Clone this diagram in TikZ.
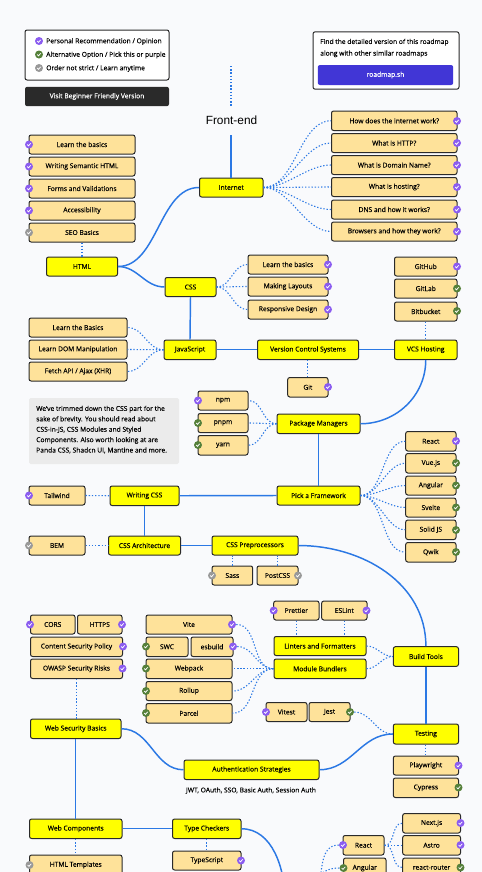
\documentclass[tikz,border=0pt]{standalone}
\usepackage{fontspec}
\setmainfont[FakeBold=0.25]{Open Sans}
\newfontfamily\titlefont{Liberation Sans}
\newfontfamily\heavyfont[FakeBold=0.5]{Open Sans}
\definecolor{bgc}{HTML}{F9FAFC}
\definecolor{peach}{HTML}{FEE29A}
\definecolor{yel}{HTML}{FFFF00}
\definecolor{edge}{HTML}{2B78E4}
\definecolor{pur}{HTML}{8B5CF0}
\definecolor{grn}{HTML}{55803A}
\definecolor{gry}{HTML}{999999}
\definecolor{ink}{HTML}{2A2A2A}
\definecolor{indigo}{HTML}{4136D6}
\tikzset{
  tinytext/.style={font=\fontsize{5.02}{6.5}\selectfont,text=black},
  basebox/.style={draw=ink,line width=0.75pt,rounded corners=1.6pt,inner sep=0pt,tinytext},
  leaf/.style={basebox,fill=peach},
  topic/.style={basebox,fill=yel},
  solidline/.style={edge,line width=1.1pt},
  dotline/.style={edge,line width=0.8pt,dash pattern=on 1pt off 1.4pt},
  chkdot/.style={circle,inner sep=0pt,minimum size=6pt,draw=none},
  chkmark/.style={white,line width=0.55pt}
}
\newcommand\bx[7]{\node[#1,minimum width={(#5-#3)*0.75pt},minimum height={(#6-#4)*0.75pt}] (#2) at ({(#3+#5)/2},{(#4+#6)/2}) {#7};}
\newcommand\chk[4]{\node[chkdot,fill=#4] (#1) at (#2,#3) {};\draw[chkmark,shift={(#2,#3)}] (-1.8,0) -- (-0.5,1.3) -- (1.8,-1.2);}
\begin{document}
\begin{tikzpicture}[x=0.75pt,y=-0.75pt]
\useasboundingbox (0,0) rectangle (482,872);
\clip (0,0) rectangle (482,872);
\fill[bgc] (0,0) rectangle (482,872);
% legend
\node[basebox,fill=white,minimum width=108pt,minimum height=37.5pt] (legend) at (97,55) {};
\chk{la}{39}{41}{pur}\chk{lb}{39}{54.5}{grn}\chk{lc}{39}{68}{gry}
\node[tinytext,anchor=west,inner sep=0pt] (lta) at (46,41.5) {Personal Recommendation / Opinion};
\node[tinytext,anchor=west,inner sep=0pt] (ltb) at (46,55) {Alternative Option / Pick this or purple};
\node[tinytext,anchor=west,inner sep=0pt] (ltc) at (46,68.5) {Order not strict / Learn anytime};
\node[fill=ink,rounded corners=1.6pt,text=white,inner sep=0pt,minimum width=108pt,minimum height=14.5pt,font=\heavyfont\fontsize{5.02}{6.5}\selectfont] (begin) at (97,96.5) {Visit Beginner Friendly Version};
% find box
\node[basebox,fill=white,minimum width=109.5pt,minimum height=43pt] (find) at (386,60.5) {};
\node[tinytext,anchor=west,inner sep=0pt,align=left] (findt) at (320,48) {Find the detailed version of this roadmap\\[2.2pt]along with other similar roadmaps};
\node[fill=indigo,rounded corners=1.6pt,text=white,inner sep=0pt,minimum width=101.5pt,minimum height=15pt,font=\heavyfont\fontsize{5.02}{6.5}\selectfont] (rm) at (385.5,75) {roadmap.sh};
% title
\node[font=\titlefont\fontsize{8.9}{11}\selectfont,inner sep=0pt] (title) at (231.5,120.5) {Front-end};
\coordinate (titletop) at (231,66);
\coordinate (titleb) at (231,107);
\coordinate (titlec) at (231,135);
% boxes
\bx{topic}{internet}{199.5}{178}{263}{197}{Internet}
\bx{leaf}{r1}{331.5}{111}{457}{130.5}{How does the internet work?}
\bx{leaf}{r2}{331.5}{133.5}{457}{152.5}{What is HTTP?}
\bx{leaf}{r3}{331.5}{155.5}{457}{174.5}{What is Domain Name?}
\bx{leaf}{r4}{331.5}{177.5}{457}{196.5}{What is hosting?}
\bx{leaf}{r5}{331.5}{200}{457}{219}{DNS and how it works?}
\bx{leaf}{r6}{331.5}{222}{457}{241}{Browsers and how they work?}
\bx{leaf}{h1}{29}{135}{135}{154}{Learn the basics}
\bx{leaf}{h2}{29}{157}{135}{176}{Writing Semantic HTML}
\bx{leaf}{h3}{29}{179}{135}{198}{Forms and Validations}
\bx{leaf}{h4}{29}{201}{135}{220}{Accessibility}
\bx{leaf}{h5}{29}{223}{135}{242}{SEO Basics}
\bx{topic}{html}{46.5}{257}{117.5}{276}{HTML}
\bx{topic}{css}{165}{277.5}{216}{296.5}{CSS}
\bx{leaf}{c1}{248}{255}{328}{274}{Learn the basics}
\bx{leaf}{c2}{248}{277}{328}{296}{Making Layouts}
\bx{leaf}{c3}{248}{300}{328}{319}{Responsive Design}
\bx{leaf}{g1}{394.5}{257}{457}{276}{GitHub}
\bx{leaf}{g2}{394.5}{279}{457}{298}{GitLab}
\bx{leaf}{g3}{394.5}{302}{457}{321}{Bitbucket}
\bx{topic}{vcsh}{394.5}{340}{457}{359.5}{VCS Hosting}
\bx{topic}{vcs}{257.5}{340}{358.5}{359.5}{Version Control Systems}
\bx{topic}{js}{164}{340}{216}{359.5}{JavaScript}
\bx{leaf}{j1}{29}{318}{127}{337}{Learn the Basics}
\bx{leaf}{j2}{29}{340}{127}{359}{Learn DOM Manipulation}
\bx{leaf}{j3}{29}{362}{127}{381}{Fetch API / Ajax (XHR)}
\bx{leaf}{git}{287.7}{377.5}{328}{397}{Git}
\bx{topic}{pm}{277}{414}{360}{433.5}{Package Managers}
\bx{leaf}{npm}{198}{391}{248}{410}{npm}
\bx{leaf}{pnpm}{198}{413.5}{248}{432.5}{pnpm}
\bx{leaf}{yarn}{198}{435.5}{248}{455}{yarn}
\node[fill=black!8,rounded corners=1.2pt,minimum width=112.5pt,minimum height=49.5pt] (note) at (104,431) {};
\node[tinytext,anchor=north west,inner sep=0pt,align=left] (notet) at (36,405.5) {We've trimmed down the CSS part for the\\[1.3pt]sake of brevity. You should read about\\[1.3pt]CSS-in-JS, CSS Modules and Styled\\[1.3pt]Components. Also worth looking at are\\[1.3pt]Panda CSS, Shadcn UI, Mantine and more.};
\bx{leaf}{f1}{405.7}{431.5}{456}{451}{React}
\bx{leaf}{f2}{405.7}{453.5}{456}{473}{Vue.js}
\bx{leaf}{f3}{405.7}{476}{456}{495}{Angular}
\bx{leaf}{f4}{405.7}{498}{456}{517}{Svelte}
\bx{leaf}{f5}{405.7}{520}{456}{539.5}{Solid JS}
\bx{leaf}{f6}{405.7}{542.5}{456}{562}{Qwik}
\bx{topic}{pick}{277}{486}{360}{505}{Pick a Framework}
\bx{topic}{wcss}{110}{486}{179}{505.5}{Writing CSS}
\bx{leaf}{tail}{29}{486}{85}{505}{Tailwind}
\bx{topic}{arch}{108.5}{536}{180.5}{555}{CSS Architecture}
\bx{leaf}{bem}{29}{536}{85}{555}{BEM}
\bx{topic}{prep}{212}{536}{298}{555}{CSS Preprocessors}
\bx{leaf}{sass}{212}{566}{252.7}{585}{Sass}
\bx{leaf}{post}{257}{566}{298}{585}{PostCSS}
\bx{topic}{build}{393.3}{646.7}{458.5}{666.3}{Build Tools}
\bx{topic}{test}{393.3}{724}{458.5}{744}{Testing}
\bx{leaf}{play}{393.3}{756}{458.5}{775}{Playwright}
\bx{leaf}{cyp}{393.3}{778}{458.5}{797.5}{Cypress}
\bx{leaf}{pret}{273.7}{601}{319}{620}{Prettier}
\bx{leaf}{esl}{321.7}{601}{367}{620}{ESLint}
\bx{topic}{lint}{274}{636.5}{366}{655.5}{Linters and Formatters}
\bx{topic}{mod}{274}{659}{366}{678.5}{Module Bundlers}
\bx{leaf}{vitest}{266}{702.5}{307}{721.5}{Vitest}
\bx{leaf}{jest}{309}{702.5}{350}{721.5}{Jest}
\bx{topic}{auth}{184}{760}{319}{779.5}{Authentication Strategies}
\node[tinytext,inner sep=0pt] (autht) at (251,790.5) {JWT, OAuth, SSO, Basic Auth, Session Auth};
\bx{leaf}{next}{402.7}{813.5}{460.5}{833}{Next.js}
\bx{leaf}{astro}{402.7}{835.5}{460.5}{855}{Astro}
\bx{leaf}{rr}{402.7}{858}{460.5}{877}{react-router}
\bx{leaf}{react}{343}{835.5}{384}{855}{React}
\bx{leaf}{ang}{343.5}{858}{386}{878}{Angular}
\bx{leaf}{cors}{30.5}{615}{75}{634}{CORS}
\bx{leaf}{https}{77.5}{615}{122}{634}{HTTPS}
\bx{leaf}{csp}{30.5}{637}{122.5}{656.5}{Content Security Policy}
\bx{leaf}{owasp}{30.5}{659}{122.5}{678.5}{OWASP Security Risks}
\bx{topic}{wsb}{30.5}{719}{121}{738.5}{Web Security Basics}
\bx{topic}{wc}{29.5}{819}{122}{838.5}{Web Components}
\bx{topic}{tc}{172.5}{819}{241}{838.5}{Type Checkers}
\bx{leaf}{ts}{172.5}{851}{241}{870}{TypeScript}
\bx{leaf}{tmpl}{29.5}{855}{122}{875}{HTML Templates}
\bx{leaf}{vite}{146}{615}{232}{634}{Vite}
\bx{leaf}{swc}{146}{637}{188}{656.5}{SWC}
\bx{leaf}{esb}{191}{637}{233}{656.5}{esbuild}
\bx{leaf}{wp}{146}{659}{232}{678.5}{Webpack}
\bx{leaf}{roll}{146}{681.5}{232}{700.5}{Rollup}
\bx{leaf}{parc}{146}{703.5}{232}{723}{Parcel}
% free ends
\coordinate (tcend) at (285,900);
\coordinate (reactend) at (318,890);
\coordinate (angend) at (316,882);
% solid connectors
\draw[dotline] (titletop) -- (titleb);
\draw[solidline] (titlec) -- (titlec |- internet.north);
\draw[solidline] (html.east) to[out=0,in=180,looseness=0.9] (internet.west);
\draw[solidline] (html.east) to[out=0,in=180] (css.west);
\draw[solidline] (css.south) -- (js.north);
\draw[solidline] (js.east) -- (vcs.west);
\draw[solidline] (vcs.east) -- (vcsh.west);
\draw[solidline] (vcsh.south) to[out=270,in=0,looseness=1] (pm.east);
\draw[solidline] (pm.south) -- (pick.north);
\draw[solidline] (pick.west) -- (wcss.east);
\draw[solidline] (wcss.south) -- (wcss.south |- arch.north);
\draw[solidline] (arch.east) -- (prep.west);
\draw[solidline] (prep.east) to[out=0,in=90,looseness=1] (build.north);
\draw[solidline] (build.south) -- (test.north);
\draw[solidline] (test.west) to[out=180,in=0] (auth.east);
\draw[solidline] (auth.west) to[out=180,in=0] (wsb.east);
\draw[solidline] (wsb.south) -- (wsb.south |- wc.north);
\draw[solidline] (wc.east) -- (tc.west);
\draw[solidline] (tc.east) to[out=0,in=90,looseness=0.95] (tcend);
% dotted connectors
\foreach \t in {r1,r2,r3,r4,r5,r6}{\draw[dotline] (internet.east) to[out=0,in=180,looseness=0.85] (\t.west);}
\foreach \t in {c1,c2,c3}{\draw[dotline] (css.east) to[out=0,in=180] (\t.west);}
\draw[dotline] (h5.south -| html.north) -- (html.north);
\draw[dotline] (g3.south) -- (vcsh.north);
\draw[dotline] (vcs.south -| git.north) -- (git.north);
\foreach \t in {j1,j2,j3}{\draw[dotline] (js.west) to[out=180,in=0] (\t.east);}
\foreach \t in {npm,pnpm,yarn}{\draw[dotline] (pm.west) to[out=180,in=0] (\t.east);}
\foreach \t in {f1,f2,f3,f4,f5,f6}{\draw[dotline] (pick.east) to[out=0,in=180,looseness=0.85] (\t.west);}
\draw[dotline] (tail.east) -- (wcss.west);
\draw[dotline] (bem.east) -- (arch.west);
\draw[dotline] (sass.north) -- (sass.north |- prep.south);
\draw[dotline] (post.north) -- (post.north |- prep.south);
\draw[dotline] (pret.south) -- (pret.south |- lint.north);
\draw[dotline] (esl.south) -- (esl.south |- lint.north);
\draw[dotline] (lint.east) to[out=0,in=180] (build.west);
\draw[dotline] (mod.east) to[out=0,in=180] (build.west);
\draw[dotline] (test.south) -- (play.north);
\draw[dotline] (owasp.south) -- (owasp.south |- wsb.north);
\draw[dotline] (wc.south) -- (tmpl.north);
\draw[dotline] (tc.south) -- (ts.north);
\foreach \t in {wp,roll,parc}{\draw[dotline] (mod.west) to[out=180,in=0] (\t.east);}
% checks
\foreach \n/\x/\y in {r1/457/121,r2/457/143,r3/457/165,r4/457/187,r5/457/209.5,r6/457/231.5,h1/29/144.5,h2/29/166.5,h3/29/188.5,h4/29/210.5,c1/328/264.5,c2/328/286.5,c3/328/309.5,g1/457/266.5,git/328/387,npm/198/400.5,f1/456/441,tail/29/495.5,play/458.5/765.5,vitest/266/712,vite/232/624.5,esb/233/646.5,pret/273.7/610.5,esl/366.5/610.5,cors/30/624.5,https/122/624.5,csp/123/646.5,owasp/122.5/668.5,next/460.5/823,astro/460.5/845,react/343/845,ts/241/860.5}{\chk{k\n}{\x}{\y}{pur}}
\foreach \n/\x/\y in {g2/457/288.5,g3/457/311,pnpm/198/423,yarn/198/445,f2/456/463,f3/456/485.5,f4/456/507.5,f5/456/530,f6/456/552,cyp/458.5/787.5,jest/350/712,swc/146/646.5,wp/146/668.5,roll/146/691,parc/146/713,rr/460.5/867.5,ang/343.5/868}{\chk{k\n}{\x}{\y}{grn}}
\foreach \n/\x/\y in {h5/29/232.5,bem/29/545.5,sass/212/575.5,post/298/575.5,tmpl/29.5/865}{\chk{k\n}{\x}{\y}{gry}}
% connectors that leave a check
\draw[dotline] (kvite.east) to[out=0,in=180] (mod.west);
\draw[dotline] (kesb.east) to[out=0,in=180] (mod.west);
\draw[dotline] (kjest.east) to[out=0,in=180] (test.west);
\draw[dotline] (react.east) to[out=0,in=180] (next.west);
\draw[dotline] (react.east) to[out=0,in=180] (astro.west);
\draw[dotline] (react.east) to[out=0,in=180] (rr.west);
\draw[dotline] (kreact.west) to[out=180,in=75] (reactend);
\draw[dotline] (kang.west) to[out=180,in=70] (angend);
\end{tikzpicture}
\end{document}
